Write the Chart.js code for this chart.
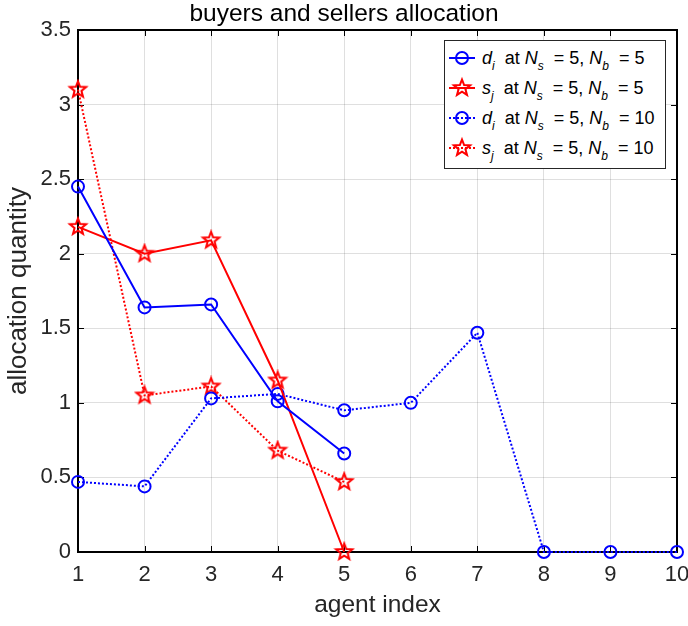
<!DOCTYPE html>
<html>
<head>
<meta charset="utf-8">
<script src="https://cdn.jsdelivr.net/npm/chart.js@4.4.1/dist/chart.umd.min.js"></script>
<style>
  body { margin: 0; background: #fff; }
  #wrap { position: relative; width: 688px; height: 626px; }
  #legend {
    position: absolute; left: 444px; top: 40px; width: 222px; height: 129px;
    box-sizing: border-box; border: 1px solid #262626; background: #fff;
    padding-top: 2px; font-family: 'Liberation Sans', Arial, sans-serif;
    font-size: 18px; color: #000;
  }
  .row { height: 30px; display: flex; align-items: center; white-space: nowrap; }
  .row svg { width: 34px; height: 30px; margin-right: 3px; flex: none; }
  sub { font-size: 12px; vertical-align: -6px; line-height: 0; }
</style>
</head>
<body>
<div id="wrap">
  <canvas id="chart" width="688" height="626"></canvas>
  <div id="legend"></div>
</div>
<script>
// dados
const agentIdx = [1, 2, 3, 4, 5, 6, 7, 8, 9, 10];
const dNb5 = [2.45, 1.64, 1.66, 1.01, 0.66];
const sNb5 = [2.18, 2.00, 2.09, 1.15, 0.00];
const dNb10 = [0.47, 0.44, 1.03, 1.06, 0.95, 1.00, 1.47, 0.00, 0.00, 0.00];
const sNb10 = [3.10, 1.05, 1.11, 0.68, 0.47];
const xTicks = [1, 2, 3, 4, 5, 6, 7, 8, 9, 10];
const yTicks = [0, 0.5, 1, 1.5, 2, 2.5, 3, 3.5];

const FONT = "'Liberation Sans', Arial, sans-serif";
const BLUE = '#0000ff';
const RED = '#ff0000';

function starPoints(cx, cy, R, r) {
  const pts = [];
  for (let i = 0; i < 10; i++) {
    const rad = i % 2 ? r : R;
    const ang = -Math.PI / 2 + i * Math.PI / 5;
    pts.push([cx + rad * Math.cos(ang), cy + rad * Math.sin(ang)]);
  }
  return pts;
}

function makeStar(size, R, r, color) {
  const c = document.createElement('canvas');
  c.width = size; c.height = size;
  const g = c.getContext('2d');
  g.beginPath();
  starPoints(size / 2, size / 2, R, r).forEach((p, i) => i ? g.lineTo(p[0], p[1]) : g.moveTo(p[0], p[1]));
  g.closePath();
  g.strokeStyle = color;
  g.lineWidth = 2;
  g.stroke();
  return c;
}

const starImg = makeStar(22, 8.5, 3.6, RED);

function toPoints(values) {
  return values.map((v, i) => ({ x: agentIdx[i], y: v }));
}

function lineSet(label, values, color, dash, marker) {
  return {
    label: label,
    data: toPoints(values),
    borderColor: color,
    borderWidth: 2,
    borderDash: dash,
    pointStyle: marker === 'star' ? starImg : 'circle',
    pointRadius: 6,
    pointBorderWidth: 2,
    pointBorderColor: color,
    pointBackgroundColor: 'rgba(0,0,0,0)',
    fill: false,
    tension: 0,
    clip: false
  };
}

// moldura e marcas internas estilo MATLAB
const frame = {
  id: 'frame',
  beforeDatasetsDraw(chart) {
    const { ctx, chartArea: a, scales: { x, y } } = chart;
    ctx.save();
    ctx.strokeStyle = '#000';
    ctx.lineWidth = 1;
    ctx.beginPath();
    xTicks.forEach(v => {
      const px = Math.round(x.getPixelForValue(v)) + 0.5;
      ctx.moveTo(px, a.bottom); ctx.lineTo(px, a.bottom - 6);
      ctx.moveTo(px, a.top); ctx.lineTo(px, a.top + 6);
    });
    yTicks.forEach(v => {
      const py = Math.round(y.getPixelForValue(v)) + 0.5;
      ctx.moveTo(a.left, py); ctx.lineTo(a.left + 6, py);
      ctx.moveTo(a.right, py); ctx.lineTo(a.right - 6, py);
    });
    ctx.stroke();
    ctx.lineWidth = 2;
    ctx.strokeRect(a.left, a.top, a.right - a.left, a.bottom - a.top);
    ctx.restore();
  }
};

new Chart(document.getElementById('chart').getContext('2d'), {
  type: 'line',
  data: {
    datasets: [
      lineSet('d_i at N_s = 5, N_b = 5', dNb5, BLUE, [], 'circle'),
      lineSet('s_j at N_s = 5, N_b = 5', sNb5, RED, [], 'star'),
      lineSet('d_i at N_s = 5, N_b = 10', dNb10, BLUE, [2, 2], 'circle'),
      lineSet('s_j at N_s = 5, N_b = 10', sNb10, RED, [2, 2], 'star')
    ]
  },
  options: {
    responsive: false,
    animation: false,
    layout: { padding: { left: 0, right: 0, top: 0, bottom: 0 } },
    plugins: {
      legend: { display: false },
      tooltip: { enabled: false },
      title: {
        display: true,
        text: 'buyers and sellers allocation',
        color: '#000',
        font: { family: FONT, size: 24.5, weight: 'normal' },
        padding: { top: 0, bottom: 0.6 }
      }
    },
    scales: {
      x: {
        type: 'linear',
        min: 1,
        max: 10,
        afterFit: s => { s.height = 74; s.paddingRight = 11; },
        afterBuildTicks: s => { s.ticks = xTicks.map(v => ({ value: v })); },
        ticks: {
          color: '#262626', font: { family: FONT, size: 22 }, padding: 10,
          callback: v => String(v)
        },
        grid: { color: 'rgba(38,38,38,0.15)', lineWidth: 1, drawTicks: false },
        border: { display: false },
        title: {
          display: true, text: 'agent index', color: '#262626',
          font: { family: FONT, size: 24.5 }, padding: { top: 0, bottom: 6 }
        }
      },
      y: {
        min: 0,
        max: 3.5,
        afterFit: s => { s.width = 78; },
        afterBuildTicks: s => { s.ticks = yTicks.map(v => ({ value: v })); },
        ticks: {
          color: '#262626', font: { family: FONT, size: 22 }, padding: 7,
          callback: v => String(v)
        },
        grid: { color: 'rgba(38,38,38,0.15)', lineWidth: 1, drawTicks: false },
        border: { display: false },
        title: {
          display: true, text: 'allocation quantity', color: '#262626',
          font: { family: FONT, size: 26 }, padding: { top: 3, bottom: 0 }
        }
      }
    }
  },
  plugins: [frame]
});

// legenda em HTML (com subscritos)
const legendRows = [
  { sym: 'd', sub: 'i', nb: 5, color: BLUE, dash: '', marker: 'circle' },
  { sym: 's', sub: 'j', nb: 5, color: RED, dash: '', marker: 'star' },
  { sym: 'd', sub: 'i', nb: 10, color: BLUE, dash: '2 2', marker: 'circle' },
  { sym: 's', sub: 'j', nb: 10, color: RED, dash: '2 2', marker: 'star' }
];

const legendEl = document.getElementById('legend');
legendRows.forEach(r => {
  let mk;
  if (r.marker === 'circle') {
    mk = `<circle cx="17" cy="15" r="6" fill="none" stroke="${r.color}" stroke-width="2"/>`;
  } else {
    const pts = starPoints(17, 15, 8.5, 3.6).map(p => p.join(',')).join(' ');
    mk = `<polygon points="${pts}" fill="none" stroke="${r.color}" stroke-width="2"/>`;
  }
  const row = document.createElement('div');
  row.className = 'row';
  row.innerHTML =
    `<svg viewBox="0 0 34 30"><line x1="4" y1="15" x2="30" y2="15" stroke="${r.color}" stroke-width="2" stroke-dasharray="${r.dash}"/>${mk}</svg>` +
    `<span><i>${r.sym}</i><sub><i>${r.sub}</i></sub>&nbsp; at <i>N</i><sub><i>s</i></sub>&nbsp; = 5, <i>N</i><sub><i>b</i></sub>&nbsp; = ${r.nb}</span>`;
  legendEl.appendChild(row);
});
</script>
</body>
</html>
